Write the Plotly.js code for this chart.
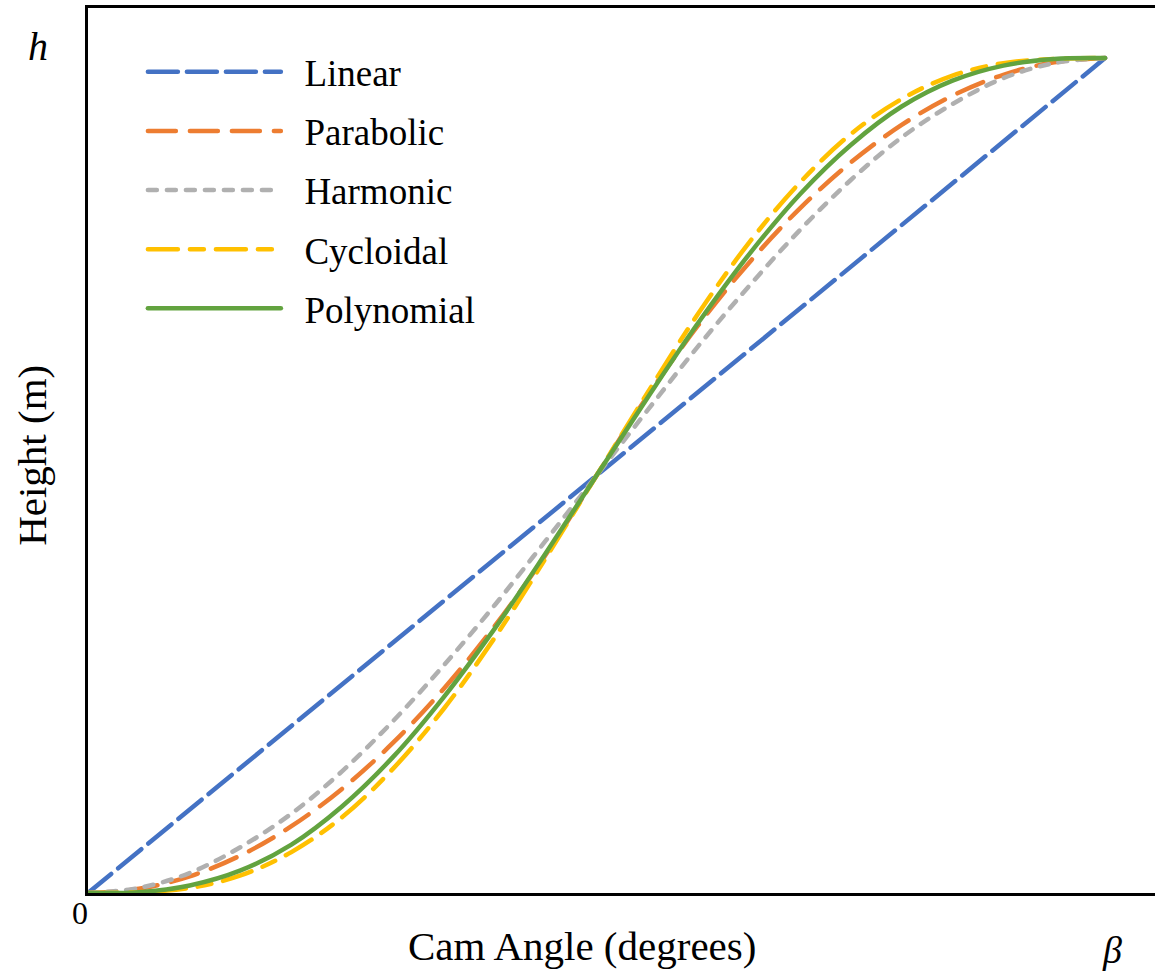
<!DOCTYPE html>
<html>
<head>
<meta charset="utf-8">
<script src="https://cdn.plot.ly/plotly-3.0.1.min.js"></script>
<style>
  html, body { margin: 0; padding: 0; overflow: hidden; background: #fff; }
  #chart { width: 1160px; height: 971px; }
  .scatterlayer path.js-line, .legendlines path { stroke-linecap: round; }
</style>
</head>
<body>
<div id="chart"></div>
<script>
// Normalised cam angle (0 .. beta) and follower rise (0 .. h) for each motion law
const camAngle = [0, 0.05, 0.1, 0.15, 0.2, 0.25, 0.3, 0.35, 0.4, 0.45, 0.5,
                  0.55, 0.6, 0.65, 0.7, 0.75, 0.8, 0.85, 0.9, 0.95, 1];

const linear = [0, 0.05, 0.1, 0.15, 0.2, 0.25, 0.3, 0.35, 0.4, 0.45, 0.5,
                0.55, 0.6, 0.65, 0.7, 0.75, 0.8, 0.85, 0.9, 0.95, 1];

const parabolic = [0, 0.005, 0.02, 0.045, 0.08, 0.125, 0.18, 0.245, 0.32, 0.405, 0.5,
                   0.595, 0.68, 0.755, 0.82, 0.875, 0.92, 0.955, 0.98, 0.995, 1];

const harmonic = [0, 0.006, 0.024, 0.055, 0.095, 0.146, 0.206, 0.273, 0.345, 0.422, 0.5,
                  0.578, 0.655, 0.727, 0.794, 0.854, 0.905, 0.945, 0.976, 0.994, 1];

const cycloidal = [0, 0.001, 0.006, 0.021, 0.049, 0.091, 0.149, 0.221, 0.306, 0.401, 0.5,
                   0.599, 0.694, 0.779, 0.851, 0.909, 0.951, 0.979, 0.994, 0.999, 1];

const polynomial = [0, 0.001, 0.009, 0.027, 0.058, 0.104, 0.163, 0.235, 0.317, 0.407, 0.5,
                    0.593, 0.683, 0.765, 0.837, 0.896, 0.942, 0.973, 0.991, 0.999, 1];

const seriesNames = ['Linear', 'Parabolic', 'Harmonic', 'Cycloidal', 'Polynomial'];
const seriesData = [linear, parabolic, harmonic, cycloidal, polynomial];
const seriesColors = ['#4472C4', '#ED7D31', '#B0B0B0', '#FFC000', '#62A33F'];
const seriesDash = ['30px,9px', '28px,14px', '9px,10px', '30px,12px,14px,12px', 'solid'];

const serif = '"Liberation Serif", "Times New Roman", serif';
const pad = '\u00A0\u00A0'; // spacing between legend sample and its label

const traces = seriesNames.map((name, i) => ({
  type: 'scatter',
  mode: 'lines',
  name: pad + name,
  legendgroup: 'g' + i,
  x: camAngle,
  y: seriesData[i],
  line: {
    color: seriesColors[i],
    width: 4.5,
    dash: seriesDash[i],
    shape: i === 0 ? 'linear' : 'spline',
    smoothing: 1
  },
  hoverinfo: 'skip'
}));

const layout = {
  width: 1160,
  height: 971,
  margin: { l: 88, r: 0, t: 8, b: 78 },
  paper_bgcolor: '#ffffff',
  plot_bgcolor: '#ffffff',
  font: { family: serif, color: '#000000' },
  showlegend: true,
  legend: {
    x: 0.0512, y: 0.9624, xanchor: 'left', yanchor: 'top',
    font: { family: serif, size: 37, color: '#000000' },
    itemwidth: 133,
    bgcolor: 'rgba(0,0,0,0)',
    tracegroupgap: 8
  },
  xaxis: {
    range: [0, 1.054],
    showgrid: false, zeroline: false,
    showticklabels: false, ticks: '',
    showline: true, linecolor: '#000000', linewidth: 3, mirror: true,
    fixedrange: true
  },
  yaxis: {
    range: [0, 1.06],
    showgrid: false, zeroline: false,
    showticklabels: false, ticks: '',
    showline: true, linecolor: '#000000', linewidth: 3, mirror: true,
    fixedrange: true
  },
  annotations: [
    { text: 'Cam Angle (degrees)', xref: 'paper', yref: 'paper', x: 0.4608, y: -0.06,
      xanchor: 'center', yanchor: 'middle', showarrow: false,
      font: { family: serif, size: 41, color: '#000' } },
    { text: 'Height (m)', xref: 'paper', yref: 'paper', x: -0.0522, y: 0.494,
      xanchor: 'center', yanchor: 'middle', showarrow: false, textangle: -90,
      font: { family: serif, size: 41, color: '#000' } },
    { text: '<i>h</i>', xref: 'paper', yref: 'paper', x: -0.0466, y: 0.956,
      xanchor: 'center', yanchor: 'middle', showarrow: false,
      font: { family: serif, size: 40, color: '#000' } },
    { text: '0', xref: 'paper', yref: 'paper', x: -0.0075, y: -0.0226,
      xanchor: 'center', yanchor: 'middle', showarrow: false,
      font: { family: serif, size: 32, color: '#000' } },
    { text: '<i>β</i>', xref: 'paper', yref: 'paper', x: 0.955, y: -0.064,
      xanchor: 'center', yanchor: 'middle', showarrow: false,
      font: { family: serif, size: 38, color: '#000' } }
  ]
};

Plotly.newPlot('chart', traces, layout, { staticPlot: true, displayModeBar: false });
</script>
</body>
</html>
